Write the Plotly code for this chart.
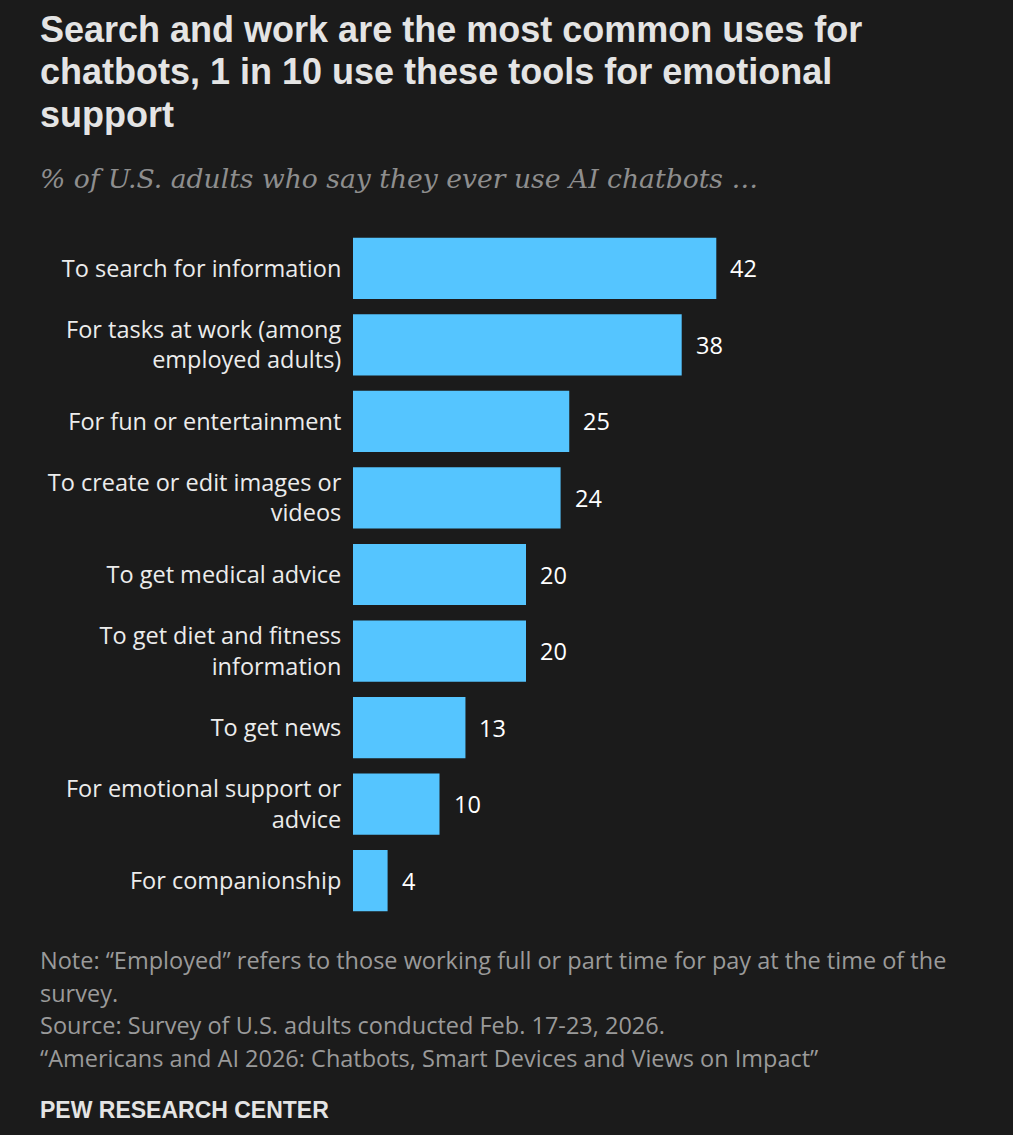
import plotly.graph_objects as go

categories = [
    "To search for information",
    "For tasks at work (among<br>employed adults)",
    "For fun or entertainment",
    "To create or edit images or<br>videos",
    "To get medical advice",
    "To get diet and fitness<br>information",
    "To get news",
    "For emotional support or<br>advice",
    "For companionship",
]
values = [42, 38, 25, 24, 20, 20, 13, 10, 4]

title_lines = [
    "Search and work are the most common uses for",
    "chatbots, 1 in 10 use these tools for emotional",
    "support",
]
subtitle = "% of U.S. adults who say they ever use AI chatbots \u2026"
note_lines = [
    "Note: \u201cEmployed\u201d refers to those working full or part time for pay at the time of the",
    "survey.",
    "Source: Survey of U.S. adults conducted Feb. 17-23, 2026.",
    "\u201cAmericans and AI 2026: Chatbots, Smart Devices and Views on Impact\u201d",
]
brand = "PEW RESEARCH CENTER"

W, H = 1013, 1135
BG = "#1b1b1b"
HEAD = "'Liberation Sans', Arial, sans-serif"
BODY = "'Open Sans', 'Liberation Sans', Arial, sans-serif"

ml, mr, mt, mb = 353, 141, 230, 216
pw = W - ml - mr
ph = H - mt - mb

def px_x(x):
    return (x - ml) / pw

def px_y(y):
    return (H - mb - y) / ph

fig = go.Figure(go.Bar(
    x=values, y=categories, orientation="h",
    marker=dict(color="#55c5ff", line=dict(width=0)),
    width=0.8, hoverinfo="x+y",
))

ann = []
for c, v in zip(categories, values):
    ann.append(dict(text=str(v), x=v, y=c, xref="x", yref="y", xanchor="left",
                    yanchor="middle", xshift=12, showarrow=False,
                    font=dict(family=BODY, size=23.5, color="#ffffff")))
for i, line in enumerate(title_lines):
    ann.append(dict(text="<b>" + line + "</b>", x=px_x(38), y=px_y(29 + 43 * i),
                    font=dict(family=HEAD, size=36, color="#e4e4e4")))
ann.append(dict(text="<i>" + subtitle + "</i>", x=px_x(38), y=px_y(178),
                font=dict(family="'DejaVu Serif', Georgia, serif", size=26.6, color="#8e8e8e")))
for i, line in enumerate(note_lines):
    ann.append(dict(text=line, x=px_x(38), y=px_y(960 + 32.5 * i),
                    font=dict(family=BODY, size=23.5, color="#9a9a9a")))
ann.append(dict(text="<b>" + brand + "</b>", x=px_x(38), y=px_y(1110),
                font=dict(family=HEAD, size=23, color="#e4e4e4")))
for a in ann:
    if "xref" not in a:
        a.update(xref="paper", yref="paper", xanchor="left", yanchor="middle", showarrow=False)

fig.update_layout(
    width=W, height=H, paper_bgcolor=BG, plot_bgcolor=BG,
    margin=dict(l=ml, r=mr, t=mt, b=mb, autoexpand=False),
    showlegend=False, annotations=ann,
    xaxis=dict(range=[0, 60], visible=False, fixedrange=True),
    yaxis=dict(autorange=False, range=[8.5, -0.5], showgrid=False, zeroline=False,
               showline=False, ticks="outside", ticklen=6, tickcolor=BG,
               tickfont=dict(family=BODY, size=23.5, color="#ececec"), automargin=False),
    font=dict(family=BODY),
)

fig.write_html("out.html")
